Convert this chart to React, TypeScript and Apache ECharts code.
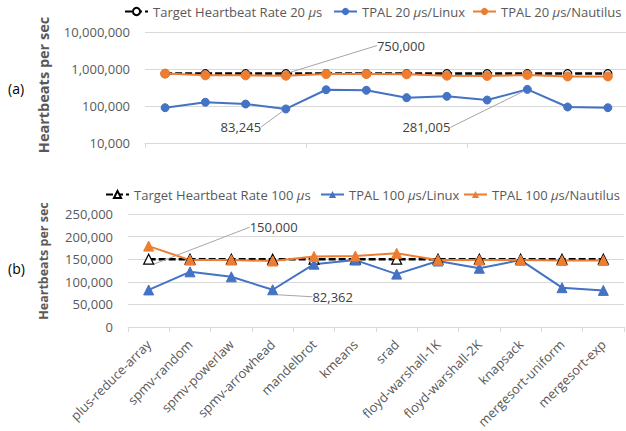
import React, { useEffect, useRef } from 'react';
import * as echarts from 'echarts';

const categories = ['plus-reduce-array', 'spmv-random', 'spmv-powerlaw', 'spmv-arrowhead', 'mandelbrot', 'kmeans', 'srad', 'floyd-warshall-1K', 'floyd-warshall-2K', 'knapsack', 'mergesort-uniform', 'mergesort-exp'];

const target20 = [750000, 750000, 750000, 750000, 750000, 750000, 750000, 750000, 750000, 750000, 750000, 750000];
const linux20 = [90000, 126000, 113000, 83245, 275000, 266000, 168000, 183000, 145000, 281005, 94000, 90000];
const nautilus20 = [750000, 675000, 675000, 660000, 730000, 730000, 720000, 660000, 650000, 690000, 630000, 630000];

const target100 = [150000, 150000, 150000, 150000, 150000, 150000, 150000, 150000, 150000, 150000, 150000, 150000];
const linux100 = [82000, 122000, 111000, 82362, 139000, 148000, 117000, 146000, 130000, 148000, 87000, 81000];
const nautilus100 = [179000, 148000, 148000, 146000, 156000, 157000, 163000, 148000, 148000, 148000, 147000, 147000];

const logTicks = [10000, 100000, 1000000, 10000000];
const linTicks = [0, 50000, 100000, 150000, 200000, 250000];

const BLUE = '#4472C4';
const ORANGE = '#ED7D31';
const GREY = '#595959';
const GRID = '#d9d9d9';
const FONT = 'Open Sans';

const fmt = (v: number) => Math.round(v).toLocaleString('en-US');

const N_T20 = 'Target Heartbeat Rate 20 μs';
const N_L20 = 'TPAL 20 μs/Linux';
const N_N20 = 'TPAL 20 μs/Nautilus';
const N_T100 = 'Target Heartbeat Rate 100 μs';
const N_L100 = 'TPAL 100 μs/Linux';
const N_N100 = 'TPAL 100 μs/Nautilus';

// annotated points: series -> dataIndex -> label offset
const annotations: Record<string, Record<number, [number, number]>> = {
  [N_T20]: { 3: [115, -28] },
  [N_L20]: { 3: [-45, 18], 9: [-101, 38] },
  [N_T100]: { 0: [125, -32] },
  [N_L100]: { 3: [60, 7] },
};

function withLabels(name: string, values: number[]) {
  const ann = annotations[name] || {};
  return values.map((v, i) => (ann[i] ? { value: v, label: { show: true } } : v));
}

function makeSeries(name: string, values: number[], idx: number, color: string, symbol: string, size: number, isTarget: boolean) {
  const ann = annotations[name] || {};
  return {
    name,
    type: 'line',
    xAxisIndex: idx,
    yAxisIndex: idx,
    data: withLabels(name, values),
    symbol,
    symbolSize: size,
    showAllSymbol: true,
    color: isTarget ? '#000' : color,
    lineStyle: isTarget ? { color: '#000', width: 2.5, type: [7, 3] } : { color, width: 2 },
    itemStyle: isTarget ? { color: '#fff', borderColor: '#000', borderWidth: 1.2 } : { color, borderColor: color },
    label: {
      show: false,
      position: 'inside',
      formatter: (p: any) => fmt(p.value),
      color: '#404040',
      fontFamily: FONT,
      fontSize: 13,
      textBorderWidth: 0,
    },
    labelLine: { show: true, lineStyle: { color: '#a6a6a6', width: 1 } },
    labelLayout: (p: any) => {
      const o = ann[p.dataIndex];
      return o ? { dx: o[0], dy: o[1] } : {};
    },
    emphasis: { disabled: true },
  };
}

function legend(name: string, left: number, top: number) {
  return {
    data: [name],
    left,
    top,
    itemWidth: 23,
    itemHeight: 9,
    itemGap: 0,
    padding: 0,
    selectedMode: false,
    formatter: (n: string) => n.replace('μ', '{i|μ}'),
    textStyle: {
      color: GREY,
      fontFamily: FONT,
      fontSize: 13,
      rich: { i: { fontStyle: 'italic', fontFamily: FONT, fontSize: 13, color: GREY } },
    },
  };
}

export default function App() {
  const ref = useRef<HTMLDivElement>(null);
  useEffect(() => {
    document.body.style.margin = '0';
    const chart = echarts.init(ref.current!, null, { renderer: 'svg' });
    chart.setOption({
      animation: false,
      backgroundColor: '#fff',
      textStyle: { fontFamily: FONT },
      grid: [
        { left: 145, top: 32, width: 483, height: 111, outerBoundsMode: 'none', containLabel: false },
        { left: 128, top: 214, width: 496, height: 113, outerBoundsMode: 'none', containLabel: false },
      ],
      legend: [
        legend(N_T20, 124, 5),
        legend(N_L20, 333, 5),
        legend(N_N20, 472, 5),
        legend(N_T100, 105, 188),
        legend(N_L100, 320, 188),
        legend(N_N100, 463, 188),
      ],
      xAxis: [0, 1].map((i) => ({
        type: 'category',
        gridIndex: i,
        data: categories,
        boundaryGap: true,
        axisLine: { lineStyle: { color: GRID, width: 1 } },
        axisTick: { show: true, length: 5, lineStyle: { color: GRID } },
        axisLabel: i === 0 ? { show: false } : { rotate: 45, color: GREY, fontFamily: FONT, fontSize: 13, margin: 15, interval: 0 },
      })),
      yAxis: [
        {
          type: 'log',
          gridIndex: 0,
          logBase: 10,
          min: logTicks[0],
          max: logTicks[logTicks.length - 1],
          axisLine: { show: false },
          axisTick: { show: false },
          splitLine: { lineStyle: { color: GRID } },
          axisLabel: { color: GREY, fontFamily: FONT, fontSize: 13, margin: 15, formatter: (v: number) => fmt(v) },
        },
        {
          type: 'value',
          gridIndex: 1,
          min: linTicks[0],
          max: linTicks[linTicks.length - 1],
          interval: linTicks[1] - linTicks[0],
          axisLine: { show: false },
          axisTick: { show: false },
          splitLine: { lineStyle: { color: GRID } },
          axisLabel: { color: GREY, fontFamily: FONT, fontSize: 13, margin: 15, formatter: (v: number) => fmt(v) },
        },
      ],
      graphic: [
        { type: 'text', x: 8, y: 88, style: { text: '(a)', fill: '#000', font: `14px ${FONT}`, textVerticalAlign: 'middle' } },
        { type: 'text', x: 8, y: 268, style: { text: '(b)', fill: '#000', font: `14px ${FONT}`, textVerticalAlign: 'middle' } },
        { type: 'text', x: 43, y: 85, rotation: Math.PI / 2, style: { text: 'Heartbeats per sec', fill: GREY, font: `bold 14.5px ${FONT}`, textAlign: 'center', textVerticalAlign: 'middle' } },
        { type: 'text', x: 43, y: 261, rotation: Math.PI / 2, style: { text: 'Heartbeats per sec', fill: GREY, font: `bold 12.5px ${FONT}`, textAlign: 'center', textVerticalAlign: 'middle' } },
      ],
      series: [
        makeSeries(N_T20, target20, 0, '#000', 'circle', 8, true),
        makeSeries(N_L20, linux20, 0, BLUE, 'circle', 8, false),
        makeSeries(N_N20, nautilus20, 0, ORANGE, 'circle', 9, false),
        makeSeries(N_T100, target100, 1, '#000', 'triangle', 10, true),
        makeSeries(N_L100, linux100, 1, BLUE, 'triangle', 10, false),
        makeSeries(N_N100, nautilus100, 1, ORANGE, 'triangle', 10, false),
      ],
    });
    return () => chart.dispose();
  }, []);
  return <div ref={ref} style={{ width: 626, height: 431 }} />;
}
